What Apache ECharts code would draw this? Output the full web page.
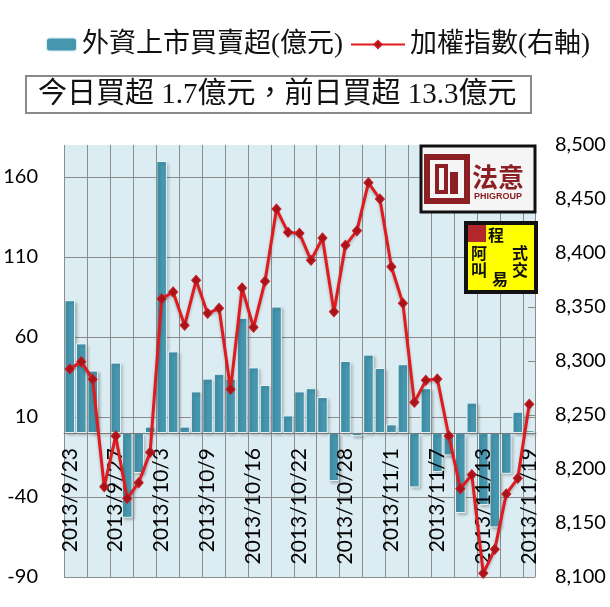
<!DOCTYPE html>
<html>
<head>
<meta charset="utf-8">
<script src="https://cdn.jsdelivr.net/npm/echarts@6/dist/echarts.min.js"></script>
<style>
  html, body { margin: 0; padding: 0; background: #fff; }
  #chart { width: 610px; height: 607px; }
</style>
</head>
<body>
<div id="chart"></div>
<script>
// trading days
const dates = ['2013/9/23', '2013/9/24', '2013/9/25', '2013/9/26', '2013/9/27', '2013/9/30',
    '2013/10/1', '2013/10/2', '2013/10/3', '2013/10/4', '2013/10/7', '2013/10/8', '2013/10/9',
    '2013/10/11', '2013/10/14', '2013/10/15', '2013/10/16', '2013/10/17', '2013/10/18',
    '2013/10/21', '2013/10/22', '2013/10/23', '2013/10/24', '2013/10/25', '2013/10/28',
    '2013/10/29', '2013/10/30', '2013/10/31', '2013/11/1', '2013/11/4', '2013/11/5', '2013/11/6',
    '2013/11/7', '2013/11/8', '2013/11/11', '2013/11/12', '2013/11/13', '2013/11/14',
    '2013/11/15', '2013/11/18', '2013/11/19'];

// 外資上市買賣超 (億元)
const foreignNet = [83, 56, 39, 0, 44, -53, -25, 4, 170, 51, 4, 26, 34, 37, 34, 72, 41, 30, 79, 11,
    26, 28, 22.5, -30, 45, -2, 49, 40.6, 5.4, 43, -34, 28, -24.4, -14, -50, 19, -45, -59, -25.5, 13.3, 1.7];

// 加權指數
const taiex = [8292.6, 8299.4, 8283, 8183.6, 8230.6, 8172.8, 8187.3, 8215.4, 8357.7, 8363.9,
    8333, 8374.7, 8344.1, 8348.8, 8273.8, 8367.6, 8331.2, 8373.8, 8440.7, 8419.1, 8418.2,
    8393.2, 8413.9, 8345.7, 8407.1, 8420.7, 8465.1, 8450, 8387.3, 8353.4, 8261.7, 8282.1,
    8283.3, 8230.6, 8181.8, 8194.7, 8103.4, 8125.6, 8176.9, 8191.4, 8259.9];

const leftAxis = { min: -90, max: 180, step: 50 };
const rightAxis = { min: 8100, max: 8500, step: 50 };

const barName = '外資上市買賣超(億元)';
const lineName = '加權指數(右軸)';
const summary = '今日買超 1.7億元，前日買超 13.3億元';

const numFont = 'Lato, "Open Sans", sans-serif';
const cjkFont = '"Liberation Serif", "Noto Sans CJK TC", serif';
const gridGray = '#8c8c8c';
const badgeFont = 'bold 16px "Noto Sans CJK TC", sans-serif';

const chart = echarts.init(document.getElementById('chart'));

chart.setOption({
    backgroundColor: '#fff',
    animation: false,
    legend: [
        {
            left: 40,
            top: 26,
            itemWidth: 31,
            itemHeight: 14,
            data: [barName],
            textStyle: { fontSize: 27, fontFamily: cjkFont, color: '#111' }
        },
        {
            left: 345,
            top: 26,
            itemWidth: 54,
            itemHeight: 9,
            data: [lineName],
            textStyle: { fontSize: 27, fontFamily: cjkFont, color: '#111' }
        }
    ],
    grid: {
        left: 64,
        right: 75,
        top: 145,
        bottom: 30,
        outerBoundsMode: 'none',
        containLabel: false,
        show: true,
        backgroundColor: '#dbedf3',
        borderWidth: 0
    },
    xAxis: {
        type: 'category',
        data: dates,
        z: 3,
        axisLine: {
            onZero: true,
            onZeroAxisIndex: 0,
            lineStyle: { color: '#7a7a7a', width: 1 }
        },
        axisTick: { show: false },
        axisLabel: {
            interval: 3,
            rotate: 90,
            // labels hang just under the zero line, not at the grid bottom
            margin: -129,
            fontSize: 21,
            fontFamily: numFont,
            color: '#000'
        },
        splitLine: {
            show: true,
            interval: 1,
            lineStyle: { color: gridGray, width: 1 }
        }
    },
    yAxis: [
        {
            type: 'value',
            position: 'left',
            min: leftAxis.min,
            max: leftAxis.max,
            interval: leftAxis.step,
            axisLine: { show: false },
            axisTick: { show: false },
            axisLabel: {
                showMaxLabel: false,
                margin: 26,
                fontSize: 20,
                fontFamily: numFont,
                color: '#000'
            },
            splitLine: {
                showMaxLine: false,
                lineStyle: { color: gridGray, width: 1 }
            }
        },
        {
            type: 'value',
            position: 'right',
            min: rightAxis.min,
            max: rightAxis.max,
            interval: rightAxis.step,
            axisLine: { show: true, lineStyle: { color: gridGray } },
            axisTick: { show: true, inside: true, length: 7, lineStyle: { color: gridGray } },
            axisLabel: {
                margin: 20,
                fontSize: 20,
                fontFamily: numFont,
                color: '#000'
            },
            splitLine: { show: false }
        }
    ],
    graphic: [
        // summary box
        {
            type: 'rect',
            shape: { x: 26, y: 76, width: 505, height: 37 },
            style: { fill: '#fff', stroke: '#8a8a8a', lineWidth: 2 }
        },
        {
            type: 'text',
            x: 38,
            y: 95,
            style: {
                text: summary,
                font: '29px ' + cjkFont,
                fill: '#111',
                verticalAlign: 'middle'
            }
        },
        // PHIGROUP logo
        {
            type: 'rect',
            shape: { x: 421, y: 146, width: 114, height: 66 },
            style: { fill: '#f5f5f5', stroke: '#111', lineWidth: 3 },
            z: 100
        },
        {
            type: 'rect',
            shape: { x: 427, y: 157, width: 40, height: 44 },
            style: { fill: 'none', stroke: '#8b1f24', lineWidth: 6 },
            z: 101
        },
        {
            type: 'rect',
            shape: { x: 437, y: 166, width: 9, height: 26 },
            style: { fill: 'none', stroke: '#8b1f24', lineWidth: 4 },
            z: 101
        },
        {
            type: 'rect',
            shape: { x: 450, y: 172, width: 8, height: 22 },
            style: { fill: '#8b1f24' },
            z: 101
        },
        {
            type: 'text',
            x: 472,
            y: 164,
            style: { text: '法意', font: 'bold 26px "Noto Sans CJK TC", sans-serif', fill: '#8b1f24' },
            z: 101
        },
        {
            type: 'text',
            x: 474,
            y: 192,
            style: { text: 'PHIGROUP', font: 'bold 9px "Liberation Sans", sans-serif', fill: '#8b1f24' },
            z: 101
        },
        // 阿叫程式交易 badge
        {
            type: 'rect',
            shape: { x: 466, y: 223, width: 70, height: 69 },
            style: { fill: '#ffff00', stroke: '#111', lineWidth: 4 },
            z: 100
        },
        {
            type: 'rect',
            shape: { x: 468, y: 225, width: 18, height: 17 },
            style: { fill: '#b3262b' },
            z: 101
        },
        { type: 'text', x: 488, y: 227, z: 102, style: { text: '程', font: badgeFont, fill: '#111' } },
        { type: 'text', x: 471, y: 245, z: 102, style: { text: '阿', font: badgeFont, fill: '#111' } },
        { type: 'text', x: 471, y: 262, z: 102, style: { text: '叫', font: badgeFont, fill: '#111' } },
        { type: 'text', x: 492, y: 271, z: 102, style: { text: '易', font: badgeFont, fill: '#111' } },
        { type: 'text', x: 512, y: 245, z: 102, style: { text: '式', font: badgeFont, fill: '#111' } },
        { type: 'text', x: 512, y: 262, z: 102, style: { text: '交', font: badgeFont, fill: '#111' } }
    ],
    series: [
        {
            name: barName,
            type: 'bar',
            yAxisIndex: 0,
            data: foreignNet,
            barCategoryGap: '8%',
            itemStyle: {
                color: '#4596ae',
                borderColor: 'rgba(240,250,252,0.9)',
                borderWidth: 1,
                shadowColor: 'rgba(0,0,0,0.25)',
                shadowBlur: 3,
                shadowOffsetX: 2,
                shadowOffsetY: 2
            }
        },
        {
            name: lineName,
            type: 'line',
            yAxisIndex: 1,
            data: taiex,
            symbol: 'diamond',
            symbolSize: [9, 10],
            showAllSymbol: true,
            lineStyle: {
                color: '#e01b1f',
                width: 3,
                shadowColor: 'rgba(0,0,0,0.25)',
                shadowBlur: 3,
                shadowOffsetY: 2
            },
            itemStyle: {
                color: '#a8141a',
                borderColor: '#c81d22',
                borderWidth: 1
            },
            z: 5
        }
    ]
});
</script>
</body>
</html>
